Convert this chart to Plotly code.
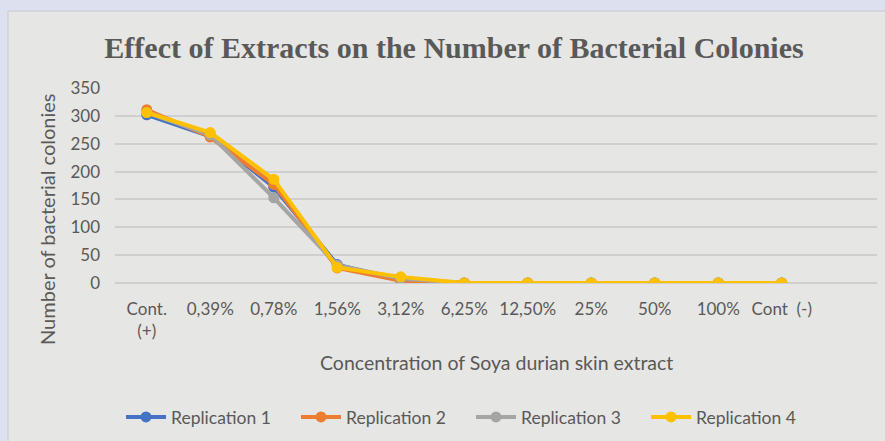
import plotly.graph_objects as go

categories = ["Cont.<br>(+)", "0,39%", "0,78%", "1,56%", "3,12%", "6,25%",
              "12,50%", "25%", "50%", "100%", "Cont\u00a0\u00a0(-)"]
rep1 = [302, 263, 172, 33, 5, 0, 0, 0, 0, 0, 0]
rep2 = [311, 262, 177, 27, 4, 0, 0, 0, 0, 0, 0]
rep3 = [306, 266, 153, 32, 8, 0, 0, 0, 0, 0, 0]
rep4 = [306, 270, 186, 28, 11, 0, 0, 0, 0, 0, 0]
series_names = ["Replication 1", "Replication 2", "Replication 3", "Replication 4"]
y_ticks = [0, 50, 100, 150, 200, 250, 300, 350]

colors = ["#4472C4", "#ED7D31", "#A5A5A5", "#FFC000"]
TXT = "#595959"
FONT = "Lato, 'Open Sans', sans-serif"

W, H = 885, 441
L, R, T, B = 115, 8, 88, 158
pw, ph = W - L - R, H - T - B

def px_x(p):
    return (p - L) / pw

def px_y(p):
    return (H - B - p) / ph

fig = go.Figure()
for name, vals, c in zip(series_names, [rep1, rep2, rep3, rep4], colors):
    fig.add_trace(go.Scatter(
        x=categories, y=vals, name=name, mode="lines+markers",
        line=dict(color=c, width=4),
        marker=dict(color=c, size=11),
    ))

fig.update_layout(
    width=W, height=H,
    margin=dict(l=L, r=R, t=T, b=B, autoexpand=False),
    paper_bgcolor="#dde0ee",
    plot_bgcolor="rgba(0,0,0,0)",
    font=dict(family=FONT, color=TXT, size=17),
    title=dict(
        text="Effect of Extracts on the Number of Bacterial Colonies",
        font=dict(family="'Liberation Serif', 'Times New Roman', serif", size=30,
                  color=TXT, weight="bold"),
        x=454 / W, xanchor="center", xref="container",
        y=1 - 47 / H, yanchor="middle", yref="container",
    ),
    showlegend=True,
    legend=dict(
        orientation="h", x=px_x(471), xanchor="center",
        y=px_y(417), yanchor="middle",
        font=dict(family=FONT, size=17.5, color=TXT),
        bgcolor="rgba(0,0,0,0)",
        entrywidth=120, entrywidthmode="pixels",
        itemwidth=40,
    ),
    shapes=[dict(
        type="rect", xref="paper", yref="paper", layer="below",
        x0=px_x(8), x1=px_x(W + 5), y0=px_y(11), y1=px_y(H + 5),
        fillcolor="#e6e6e4", line=dict(color="#cfd1d9", width=1.5),
    )],
    annotations=[
        dict(text="Number of bacterial colonies", textangle=-90,
             xref="paper", yref="paper", x=px_x(47), y=px_y(219),
             showarrow=False, xanchor="center", yanchor="middle",
             font=dict(family=FONT, size=20, color=TXT)),
        dict(text="Concentration of Soya durian skin extract",
             xref="paper", yref="paper", x=px_x(496), y=px_y(362),
             showarrow=False, xanchor="center", yanchor="middle",
             font=dict(family=FONT, size=19.5, color=TXT)),
    ],
)

fig.update_xaxes(
    type="category", categoryorder="array", categoryarray=categories,
    range=[-0.5, 11.5], showgrid=False, showline=False, zeroline=False,
    ticks="", tickfont=dict(family=FONT, size=17, color=TXT),
    ticklabelstandoff=14, fixedrange=True,
)
fig.update_yaxes(
    range=[0, 350], tickvals=y_ticks, showgrid=True, gridcolor="#cfcfcf",
    gridwidth=1.5, zeroline=True, zerolinecolor="#cfcfcf", zerolinewidth=1.5,
    showline=False, ticks="", tickfont=dict(family=FONT, size=17, color=TXT),
    ticklabelstandoff=14, fixedrange=True,
)

fig.write_html("out.html", config={"displayModeBar": False},
               post_script="document.body.style.margin='0';")
